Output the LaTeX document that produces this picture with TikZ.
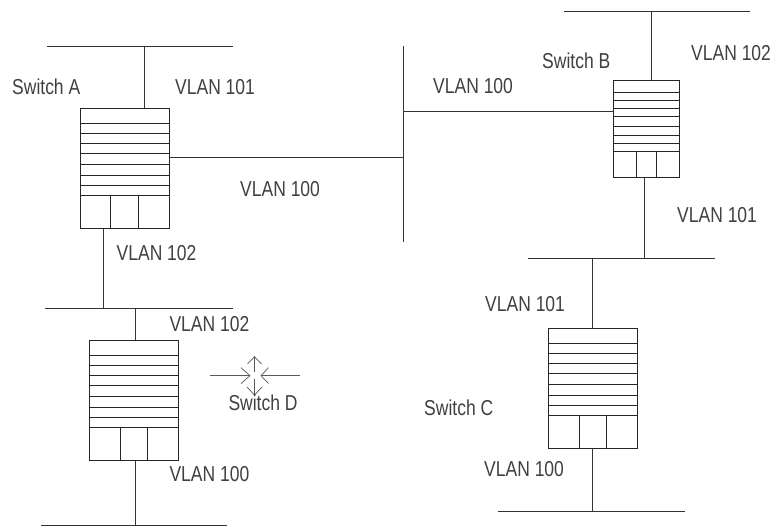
\documentclass[tikz,border=0pt]{standalone}
\usepackage{fontspec}
\setmainfont{Liberation Sans}
\newfontfamily\labfont[FakeStretch=0.81]{Liberation Sans}
\tikzset{
  x=1pt,y=-1pt,
  net/.style={draw=black!80,line width=0.8pt},
  sw/.style={draw=black!85,line width=0.9pt},
  lab/.style={inner sep=0pt,anchor=base west,text=black!75,font=\labfont\fontsize{21.6}{24}\selectfont},
  vee/.style={draw=black!65,line width=0.7pt}
}
% #1 x, #2 y, #3 width, #4 height, #5 rows, #6 last row, #7 verticals, #8 name
\newcommand{\switchbox}[8]{%
  \coordinate (#8) at (#1,#2);
  \draw[sw] (#8) rectangle ++(#3,#4);
  \foreach \rw in {#5} \draw[sw] (#1,#2+\rw) -- ++(#3,0);
  \foreach \cl in {#7} \draw[sw] (#1+\cl,#2+#6) -- (#1+\cl,#2+#4);
}
\begin{document}
\begin{tikzpicture}
\useasboundingbox (0,0) rectangle (773,527);
\fill[white] (0,0) rectangle (773,527);
\switchbox{80}{108}{89}{120}{15,25.3,35.3,45.3,56.3,67.7,77.7,87.7}{87.7}{30.7,58}{A}
\switchbox{89.3}{340}{89}{120}{15,25.3,35.3,45.3,56.3,67.7,77.7,87.7}{87.7}{30.7,58}{D}
\switchbox{548.3}{328}{89}{120}{15,25.3,35.3,45.3,56.3,67.7,77.7,87.7}{87.7}{30.7,58}{C}
\switchbox{613.3}{80}{66.4}{97.7}{12.3,20.7,28.7,36.7,46,55.3,63.3,71.3}{71.3}{22.7,43.4}{B}
% free ends
\coordinate (busAl) at (47,46); \coordinate (busAr) at (233,46);
\coordinate (busAc) at (144.5,46); \coordinate (Atop) at (144.5,108);
\coordinate (Aright) at (169,157); \coordinate (spineA) at (403,157);
\coordinate (spineT) at (403,46); \coordinate (spineB) at (403,242);
\coordinate (spineM) at (403,111); \coordinate (Bleft) at (613.3,111);
\coordinate (busBl) at (564,11.5); \coordinate (busBr) at (750,11.5);
\coordinate (busBc) at (651.7,11.5); \coordinate (Btop) at (651.7,80);
\coordinate (Bbot) at (644.3,177.7); \coordinate (busCc) at (644.3,258);
\coordinate (busCl) at (528,258); \coordinate (busCr) at (715,258);
\coordinate (Ctopb) at (592.7,258); \coordinate (Ctop) at (592.7,328);
\coordinate (Cbot) at (592.7,448.3); \coordinate (busEc) at (592.7,511);
\coordinate (busEl) at (498,511); \coordinate (busEr) at (685,511);
\coordinate (Abot) at (103.7,228); \coordinate (busDc) at (103.7,308);
\coordinate (busDl) at (45,308); \coordinate (busDr) at (233,308);
\coordinate (Dtopb) at (135.3,308); \coordinate (Dtop) at (135.3,340);
\coordinate (Dbot) at (135.3,460.3); \coordinate (busFc) at (135.3,525.5);
\coordinate (busFl) at (41,525.5); \coordinate (busFr) at (227,525.5);
\draw[net] (busAl) -- (busAr);
\draw[net] (busAc) -- (Atop);
\draw[net] (Aright) -- (spineA);
\draw[net] (spineT) -- (spineB);
\draw[net] (spineM) -- (Bleft);
\draw[net] (busBl) -- (busBr);
\draw[net] (busBc) -- (Btop);
\draw[net] (Bbot) -- (busCc);
\draw[net] (busCl) -- (busCr);
\draw[net] (Ctopb) -- (Ctop);
\draw[net] (Cbot) -- (busEc);
\draw[net] (busEl) -- (busEr);
\draw[net] (Abot) -- (busDc);
\draw[net] (busDl) -- (busDr);
\draw[net] (Dtopb) -- (Dtop);
\draw[net] (Dbot) -- (busFc);
\draw[net] (busFl) -- (busFr);
% symbol
\coordinate (sL) at (210,375.7); \coordinate (sLe) at (250,375.7);
\coordinate (sR) at (299.7,375.7); \coordinate (sRe) at (261,375.7);
\coordinate (sT) at (254.5,356.7); \coordinate (sTe) at (254.5,372);
\coordinate (sB) at (254.5,395); \coordinate (sBe) at (254.5,379);
\draw[vee] (sL) -- (sLe);
\draw[vee] (sR) -- (sRe);
\draw[vee] (sTe) -- (sT);
\draw[vee] (sBe) -- (sB);
\draw[vee] (241,367.7) -- (sLe) -- (241,383.5);
\draw[vee] (268.5,367.7) -- (sRe) -- (268.5,383.5);
\draw[vee] (247.5,364) -- (sT) -- (261.5,364);
\draw[vee] (247,387) -- (sB) -- (262,387);
% labels
\node[lab] (l1) at (12,94) {Switch A};
\node[lab] (l2) at (175,94) {VLAN 101};
\node[lab] (l3) at (240,196) {VLAN 100};
\node[lab] (l4) at (116.5,260.7) {VLAN 102};
\node[lab] (l5) at (169.3,331) {VLAN 102};
\node[lab] (l6) at (228.3,410.7) {Switch D};
\node[lab] (l7) at (169.3,481.7) {VLAN 100};
\node[lab] (l8) at (433,93) {VLAN 100};
\node[lab] (l9) at (542,69) {Switch B};
\node[lab] (l10) at (691,60) {VLAN 102};
\node[lab] (l11) at (677,222.7) {VLAN 101};
\node[lab] (l12) at (485,311.7) {VLAN 101};
\node[lab] (l13) at (424,415.5) {Switch C};
\node[lab] (l14) at (484,476.7) {VLAN 100};
\end{tikzpicture}
\end{document}
